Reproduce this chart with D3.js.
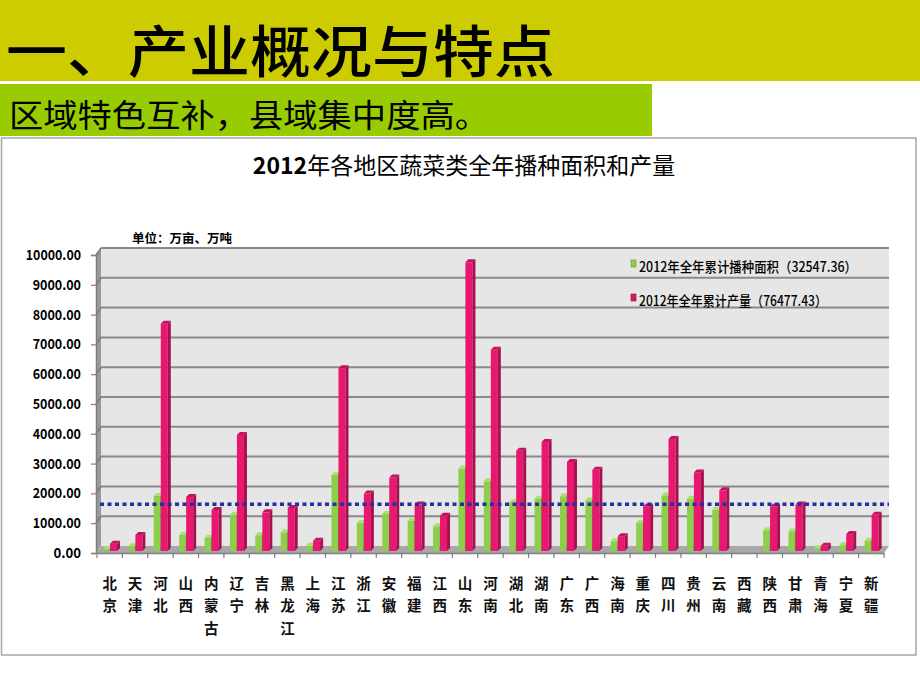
<!DOCTYPE html>
<html>
<head>
<meta charset="utf-8">
<script src="https://cdn.jsdelivr.net/npm/d3@7"></script>
<style>
  html, body { margin: 0; padding: 0; background: #ffffff; }
  svg { display: block; }
</style>
</head>
<body>
<div id="chart"></div>
<script>
// ---------------- data ----------------
const provinces = ["北京","天津","河北","山西","内蒙古","辽宁","吉林","黑龙江","上海","江苏","浙江","安徽","福建","江西","山东","河南","湖北","湖南","广东","广西","海南","重庆","四川","贵州","云南","西藏","陕西","甘肃","青海","宁夏","新疆"];
const areaValues = [100,190,1880,580,470,1250,560,660,210,2590,970,1275,1050,860,2800,2370,1670,1790,1870,1735,360,975,1900,1790,1420,0,730,695,130,225,380];
const outputValues = [280,570,7660,1845,1410,3930,1330,1480,380,6170,1960,2500,1590,1220,9720,6790,3400,3690,3020,2760,530,1530,3790,2670,2070,0,1530,1590,210,600,1250];
const yTicks = [0,1000,2000,3000,4000,5000,6000,7000,8000,9000,10000];
const referenceValue = [1500];
const seriesNames = ["2012年全年累计播种面积（32547.36）","2012年全年累计产量（76477.43）"];
const pageTitle = "一、产业概况与特点";
const subTitle = "区域特色互补，县域集中度高。";
const chartTitleYear = "2012";
const chartTitleRest = "年各地区蔬菜类全年播种面积和产量";
const unitLabel = "单位：万亩、万吨";

// ---------------- drawing ----------------
const W = 920, H = 690;
const FONT = "'Noto Sans CJK SC', 'Noto Sans', sans-serif";
const svg = d3.select("#chart").append("svg").attr("width", W).attr("height", H)
  .style("font-family", FONT);

svg.append("rect").attr("width", W).attr("height", H).attr("fill", "#ffffff");

// header band
svg.append("rect").attr("x", 0).attr("y", 0).attr("width", W).attr("height", 81).attr("fill", "#cccc00");
svg.append("text").attr("x", 6).attr("y", 47).attr("dominant-baseline", "central")
  .attr("font-size", 56).attr("font-weight", 500).attr("fill", "#000")
  .attr("textLength", 549).attr("lengthAdjust", "spacingAndGlyphs").text(pageTitle);

svg.append("rect").attr("x", 0).attr("y", 84).attr("width", 652).attr("height", 52).attr("fill", "#99cc00");
svg.append("text").attr("x", 9).attr("y", 113).attr("dominant-baseline", "central")
  .attr("font-size", 32).attr("fill", "#000")
  .attr("textLength", 480).attr("lengthAdjust", "spacingAndGlyphs").text(subTitle);

// chart frame
svg.append("rect").attr("x", 1.5).attr("y", 138).attr("width", 914.5).attr("height", 517)
  .attr("fill", "#ffffff").attr("stroke", "#a6a6a6").attr("stroke-width", 1.5);

// chart title
const t = svg.append("text").attr("x", 464).attr("y", 164).attr("text-anchor", "middle")
  .attr("dominant-baseline", "central").attr("font-size", 23).attr("fill", "#000");
t.append("tspan").attr("font-weight", 700).text(chartTitleYear);
t.append("tspan").text(chartTitleRest);

svg.append("text").attr("x", 132).attr("y", 237).attr("dominant-baseline", "central")
  .attr("font-size", 12.5).attr("font-weight", 700).attr("fill", "#000").text(unitLabel);

// scales
const x = d3.scaleBand().domain(provinces).range([97, 884]).padding(0);
const y = d3.scaleLinear().domain([0, 10000]).range([553, 255]);
const DX = 5, DY = 7; // depth offsets of back wall

const x0 = x.range()[0], x1 = x.range()[1];

// left side wall
svg.append("polygon")
  .attr("points", [[x0-1, y(10000)], [x0-1+DX, y(10000)-DY], [x0-1+DX, y(0)-DY], [x0-1, y(0)]].map(p => p.join(",")).join(" "))
  .attr("fill", "#9a9a9a");

// back wall
svg.append("rect").attr("x", x0-1+DX).attr("y", y(10000)-DY)
  .attr("width", (x1+DX) - (x0-1+DX)).attr("height", y(0) - y(10000))
  .attr("fill", "#e6e6e6");

// floor
svg.append("polygon")
  .attr("points", [[x0-1, y(0)], [x1, y(0)], [x1+DX, y(0)-DY], [x0-1+DX, y(0)-DY]].map(p => p.join(",")).join(" "))
  .attr("fill", "#a8a8a8");

// gridlines on back wall
svg.append("g").selectAll("line").data(yTicks.filter(v => v > 0)).join("line")
  .attr("x1", x0-1+DX).attr("x2", x1+DX)
  .attr("y1", d => y(d)-DY).attr("y2", d => y(d)-DY)
  .attr("stroke", "#8a8a8a").attr("stroke-width", 2);
svg.append("g").selectAll("line").data(yTicks.filter(v => v > 0)).join("line")
  .attr("x1", x0-1).attr("x2", x0-1+DX)
  .attr("y1", d => y(d)).attr("y2", d => y(d)-DY)
  .attr("stroke", "#7a7a7a").attr("stroke-width", 1.5);

// y axis
const yAxis = d3.axisLeft(y).tickValues(yTicks).tickSize(5).tickFormat(d => d3.format(".2f")(d));
const gy = svg.append("g").attr("transform", `translate(${x0-1},0)`).call(yAxis);
gy.select(".domain").attr("stroke", "#7f7f7f").attr("stroke-width", 1.5);
gy.selectAll(".tick line").attr("stroke", "#7f7f7f").attr("stroke-width", 1.2);
gy.selectAll(".tick text")
  .attr("x", -15)
  .attr("font-family", FONT).attr("font-size", 14).attr("font-weight", 700).attr("fill", "#000")
  .each(function(d) {
    const s = d3.format(".2f")(d);
    d3.select(this).attr("textLength", s.length * 6.9).attr("lengthAdjust", "spacingAndGlyphs");
  });

// x axis
const xAxis = d3.axisBottom(x).tickSize(0).tickFormat("");
const gx = svg.append("g").attr("transform", `translate(0,${y(0)})`).call(xAxis);
gx.select(".domain").attr("stroke", "#7f7f7f").attr("stroke-width", 1.5);
gx.selectAll(".tick").remove();
svg.append("g").selectAll("line").data(provinces.concat(["__end"])).join("line")
  .attr("x1", (d, i) => x0 + i * x.bandwidth()).attr("x2", (d, i) => x0 + i * x.bandwidth())
  .attr("y1", y(0)).attr("y2", y(0) + 5)
  .attr("stroke", "#7f7f7f").attr("stroke-width", 1.2);

// vertical category labels
const lab = svg.append("g").selectAll("g").data(provinces).join("g")
  .attr("transform", d => `translate(${x(d) + x.bandwidth()/2},0)`);
lab.selectAll("text").data(d => Array.from(d)).join("text")
  .attr("x", 0).attr("y", (c, i) => 582 + i * 22.5)
  .attr("text-anchor", "middle").attr("dominant-baseline", "central")
  .attr("font-size", 14.5).attr("font-weight", 700).attr("fill", "#111")
  .text(c => c);

// 3D bars
function bar3d(g, bx, w, v, front, side, top, sd) {
  const ft = y(v) - 1, base = y(0) - 2;
  if (v <= 0) return;
  g.append("rect").attr("x", bx).attr("y", ft).attr("width", w).attr("height", base - ft).attr("fill", front);
  g.append("polygon").attr("points",
    [[bx+w, ft], [bx+w+sd, ft-3], [bx+w+sd, base-3], [bx+w, base]].map(p => p.join(",")).join(" "))
    .attr("fill", side);
  g.append("polygon").attr("points",
    [[bx, ft], [bx+w, ft], [bx+w+sd, ft-3], [bx+sd, ft-3]].map(p => p.join(",")).join(" "))
    .attr("fill", top);
}
const barsG = svg.append("g");
provinces.forEach((p, i) => {
  const g = barsG.append("g");
  bar3d(g, x(p) + 6, 6.5, areaValues[i], "#8dcf4a", "#5f9a2a", "#a9e070", 2.5);
  bar3d(g, x(p) + 13, 7, outputValues[i], "#e8176f", "#a80f50", "#c4125c", 3);
});

// reference dotted line
svg.append("g").selectAll("line").data(referenceValue).join("line")
  .attr("x1", x0 + 3).attr("x2", x1 + DX)
  .attr("y1", d => y(d) - 4).attr("y2", d => y(d) - 4)
  .attr("stroke", "#23309e").attr("stroke-width", 3.5).attr("stroke-dasharray", "4,3.5");

// legend
const legendColors = ["#8dcf4a", "#d81668"];
const legendStroke = ["#5f9a2a", "#8f0d45"];
const lg = svg.append("g").selectAll("g").data(seriesNames).join("g")
  .attr("transform", (d, i) => `translate(631,${265 + i * 34})`);
lg.append("rect").attr("x", 0).attr("y", -5).attr("width", 5).attr("height", 7)
  .attr("fill", (d, i) => legendColors[i]).attr("stroke", (d, i) => legendStroke[i]).attr("stroke-width", 0.6);
lg.append("text").attr("x", 8).attr("y", 1).attr("dominant-baseline", "central")
  .attr("font-size", 14).attr("font-weight", 500).attr("fill", "#000")
  .attr("textLength", (d, i) => i === 0 ? 218 : 188).attr("lengthAdjust", "spacingAndGlyphs")
  .text(d => d);
</script>
</body>
</html>
